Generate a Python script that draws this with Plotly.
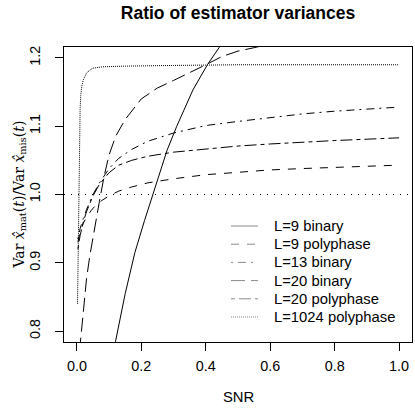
import plotly.graph_objects as go

# ---- data ----
snr_l9b = [0.115, 0.12, 0.15, 0.18, 0.21, 0.236, 0.26, 0.28, 0.31, 0.36, 0.405, 0.45, 0.47]
var_l9b = [0.775, 0.785, 0.855, 0.915, 0.962, 1.0, 1.036, 1.065, 1.1, 1.153, 1.19, 1.222, 1.235]

snr_l9p = [0.003, 0.01, 0.02, 0.03, 0.045, 0.06, 0.08, 0.1, 0.13, 0.17, 0.22, 0.3, 0.4, 0.5, 0.6, 0.7, 0.8, 0.9, 1.0]
var_l9p = [0.93, 0.945, 0.958, 0.967, 0.977, 0.985, 0.992, 0.998, 1.005, 1.011, 1.017, 1.023, 1.029, 1.033, 1.036, 1.038, 1.040, 1.042, 1.043]

snr_l13b = [0.003, 0.01, 0.02, 0.03, 0.05, 0.07, 0.1, 0.13, 0.17, 0.22, 0.3, 0.4, 0.5, 0.6, 0.7, 0.8, 0.9, 1.0]
var_l13b = [0.935, 0.95, 0.965, 0.978, 1.0, 1.017, 1.038, 1.053, 1.066, 1.078, 1.09, 1.101, 1.107, 1.113, 1.118, 1.122, 1.125, 1.128]

snr_l20b = [0.008, 0.012, 0.02, 0.03, 0.04, 0.05, 0.06, 0.07, 0.085, 0.1, 0.12, 0.15, 0.2, 0.25, 0.3, 0.35, 0.4, 0.45, 0.5, 0.55, 0.6, 0.65]
var_l20b = [0.77, 0.79, 0.83, 0.877, 0.91, 0.938, 0.965, 0.99, 1.028, 1.058, 1.085, 1.11, 1.14, 1.156, 1.167, 1.178, 1.19, 1.202, 1.21, 1.215, 1.221, 1.226]

snr_l20p = [0.003, 0.01, 0.02, 0.03, 0.05, 0.07, 0.1, 0.13, 0.17, 0.22, 0.3, 0.4, 0.5, 0.6, 0.7, 0.8, 0.9, 1.0]
var_l20p = [0.92, 0.94, 0.96, 0.975, 0.998, 1.015, 1.032, 1.043, 1.05, 1.056, 1.062, 1.067, 1.071, 1.074, 1.077, 1.079, 1.081, 1.083]

snr_l1024p = [0.002, 0.004, 0.006, 0.008, 0.01, 0.012, 0.015, 0.02, 0.025, 0.03, 0.04, 0.05, 0.08, 0.15, 0.3, 0.5, 1.0]
var_l1024p = [0.84, 0.92, 1.0, 1.08, 1.125, 1.145, 1.158, 1.168, 1.174, 1.178, 1.182, 1.185, 1.187, 1.188, 1.189, 1.19, 1.19]

ref_level = 1.0

x_ticks = [0.0, 0.2, 0.4, 0.6, 0.8, 1.0]
x_ticklabels = ["0.0", "0.2", "0.4", "0.6", "0.8", "1.0"]
y_ticks = [0.8, 0.9, 1.0, 1.1, 1.2]
y_ticklabels = ["0.8", "0.9", "1.0", "1.1", "1.2"]

series_names = ["L=9 binary", "L=9 polyphase", "L=13 binary", "L=20 binary", "L=20 polyphase", "L=1024 polyphase"]
series_x = [snr_l9b, snr_l9p, snr_l13b, snr_l20b, snr_l20p, snr_l1024p]
series_y = [var_l9b, var_l9p, var_l13b, var_l20b, var_l20p, var_l1024p]
dashes = ["solid", "8px,8px", "2px,5px,8px,5px", "14px,6px", "4px,4px,12px,4px", "1px,1px"]

FONT = "Liberation Sans, Arial, Helvetica, sans-serif"
FS = 14.4
W, H = 415, 417
ML, MR, MT, MB = 64, 3, 47, 75
PW, PH = W - ML - MR, H - MT - MB


def px_to_paper(px, py):
    return (px - ML) / PW, (H - MB - py) / PH


fig = go.Figure()
for name, xs, ys, dash in zip(series_names, series_x, series_y, dashes):
    fig.add_trace(go.Scatter(x=xs, y=ys, mode="lines", name=name, showlegend=False,
                             line=dict(color="black", width=1, dash=dash)))

# horizontal reference line across the whole plot region (abline)
shapes = [dict(type="line", xref="paper", yref="y", x0=0, x1=1, y0=ref_level, y1=ref_level,
               line=dict(color="black", width=1, dash="1px,6px"), layer="above")]

# manual legend (R style, no box)
annotations = []
for i, (name, dash) in enumerate(zip(series_names, dashes)):
    py = 226 + 18.2 * i
    x0, y0 = px_to_paper(231, py)
    x1, _ = px_to_paper(258, py)
    xt, _ = px_to_paper(272, py)
    shapes.append(dict(type="line", xref="paper", yref="paper", x0=x0, x1=x1, y0=y0, y1=y0,
                       line=dict(color="#8a8a8a", width=1, dash=dash)))
    annotations.append(dict(text=name, xref="paper", yref="paper", x=xt, y=y0,
                            xanchor="left", yanchor="middle", showarrow=False,
                            font=dict(family=FONT, size=FS + 0.4, color="black")))

annotations += [
    dict(text="SNR", xref="paper", yref="paper", x=0.5, y=0, yshift=-55,
         xanchor="center", yanchor="middle", showarrow=False,
         font=dict(family=FONT, size=FS + 0.4)),
    dict(text="Var <i>x̂</i><sub>mat</sub>(<i>t</i>)/Var <i>x̂</i><sub>mis</sub>(<i>t</i>)",
         xref="paper", yref="paper", x=0, y=0.5, xshift=-45, textangle=-90,
         xanchor="center", yanchor="middle", showarrow=False,
         font=dict(family="DejaVu Serif, Liberation Serif, serif", size=14)),
]

fig.update_layout(
    width=W, height=H,
    margin=dict(l=ML, r=MR, t=MT, b=MB, autoexpand=False),
    paper_bgcolor="white", plot_bgcolor="white",
    font=dict(family=FONT, size=FS, color="black"),
    title=dict(text="<b>Ratio of estimator variances</b>", x=(ML + PW / 2) / W, xanchor="center",
               y=1 - 13 / H, yanchor="middle", yref="container",
               font=dict(family=FONT, size=17.5, color="black")),
    showlegend=False,
    xaxis=dict(range=[-0.04, 1.04], tickmode="array", tickvals=x_ticks, ticktext=x_ticklabels,
               ticks="outside", ticklen=8, tickwidth=1, tickcolor="black",
               tickfont=dict(family=FONT, size=FS),
               showline=True, linecolor="black", linewidth=1, mirror=True, automargin=False,
               showgrid=False, zeroline=False, ticklabelstandoff=3),
    yaxis=dict(range=[0.784, 1.216], tickmode="array", tickvals=y_ticks, ticktext=y_ticklabels,
               ticks="outside", ticklen=8, tickwidth=1, tickcolor="black", tickangle=-90,
               tickfont=dict(family=FONT, size=FS),
               showline=True, linecolor="black", linewidth=1, mirror=True, automargin=False,
               showgrid=False, zeroline=False, ticklabelstandoff=9),
    shapes=shapes,
    annotations=annotations,
)

fig.write_html("out.html", config={"displayModeBar": False},
               post_script="document.body.style.margin='0px';document.body.style.padding='0px';document.body.style.overflow='hidden';")
